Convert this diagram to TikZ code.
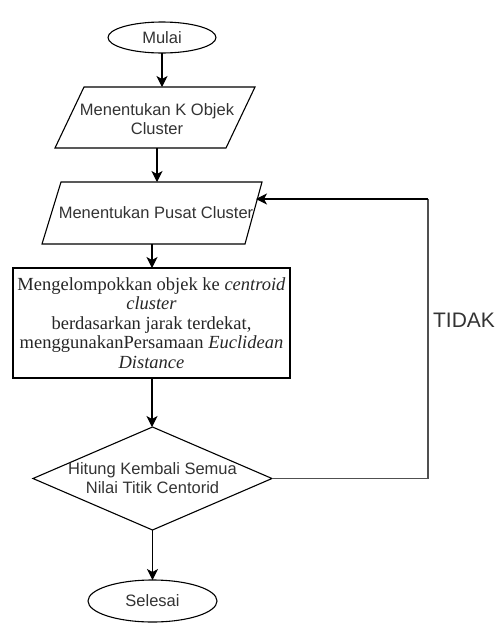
\documentclass[tikz,border=0pt]{standalone}
\usepackage{fontspec}
\setmainfont{Liberation Serif}
\setsansfont{Liberation Sans}
\usetikzlibrary{shapes.geometric,arrows.meta}
\definecolor{txt}{RGB}{51,51,51}
\tikzset{
  every node/.style={inner sep=0pt, outer sep=0pt},
  shp/.style={draw=black, line width=1.1pt},
  sans/.style={font=\sffamily\fontsize{16.5}{19}\selectfont, text=txt, align=center},
  term/.style={shp, sans, ellipse},
  iobox/.style={rectangle, draw=none},
  conn/.style={line width=1.1pt, -{Stealth[length=11pt,width=11pt,inset=3pt]}},
  plain/.style={line width=1.1pt, draw={rgb,255:red,80;green,80;blue,80}},
}
\begin{document}
\begin{tikzpicture}[x=1pt,y=-1pt]
\useasboundingbox (0,0) rectangle (499,624);
\node[term, minimum width=108pt, minimum height=31pt] (mulai) at (162,37.5) {Mulai};
\node[iobox, minimum width=200pt, minimum height=61pt] (p1) at (155,117.5) {};
\draw[shp] ([xshift=29pt]p1.north west) -- (p1.north east) -- ([xshift=-29pt]p1.south east) -- (p1.south west) -- cycle;
\node[sans] (t1) at (157,119) {Menentukan K Objek\\Cluster};
\node[iobox, minimum width=220pt, minimum height=62pt] (p2) at (152,213) {};
\draw[shp] ([xshift=19pt]p2.north west) -- (p2.north east) -- ([xshift=-17pt]p2.south east) -- (p2.south west) -- cycle;
\node[sans] (t2) at (156,213) {Menentukan Pusat Cluster};
\node[shp, rectangle, minimum width=277pt, minimum height=110pt, align=center,
      font=\fontsize{18.5}{19.5}\selectfont, text=black!85] (r) at (151.5,323)
  {Mengelompokkan objek ke \textit{centroid}\\ \textit{cluster}\\ berdasarkan jarak terdekat,\\ menggunakanPersamaan \textit{Euclidean}\\ \textit{Distance}};
\node[shp, diamond, minimum width=239pt, minimum height=103pt] (d) at (152.5,478.5) {};
\node[sans] (t3) at (152.5,478.5) {Hitung Kembali Semua\\Nilai Titik Centorid};
\node[term, minimum width=129pt, minimum height=42pt] (selesai) at (152.5,601) {Selesai};
\node[font=\sffamily\fontsize{21}{24}\selectfont, text=txt] (tidak) at (464,320) {TIDAK};
\coordinate (c1) at (428,478.5);
\coordinate (c2) at (428,199);
\coordinate (fb) at (256,199);

\draw[conn] (mulai.south) -- (mulai.south |- p1.north);
\draw[conn] ([xshift=2pt]p1.south) -- ([xshift=2pt]p1.south |- p2.north);
\draw[conn] (p2.south) -- (p2.south |- r.north);
\draw[conn] ([xshift=0.5pt]r.south) -- ([xshift=0.5pt]r.south |- d.north);
\draw[conn] (d.south) -- (selesai.north);
\draw[plain] (d.east) -- (c1) -- (c2);
\draw[conn] (c2) -- (fb);
\end{tikzpicture}
\end{document}
